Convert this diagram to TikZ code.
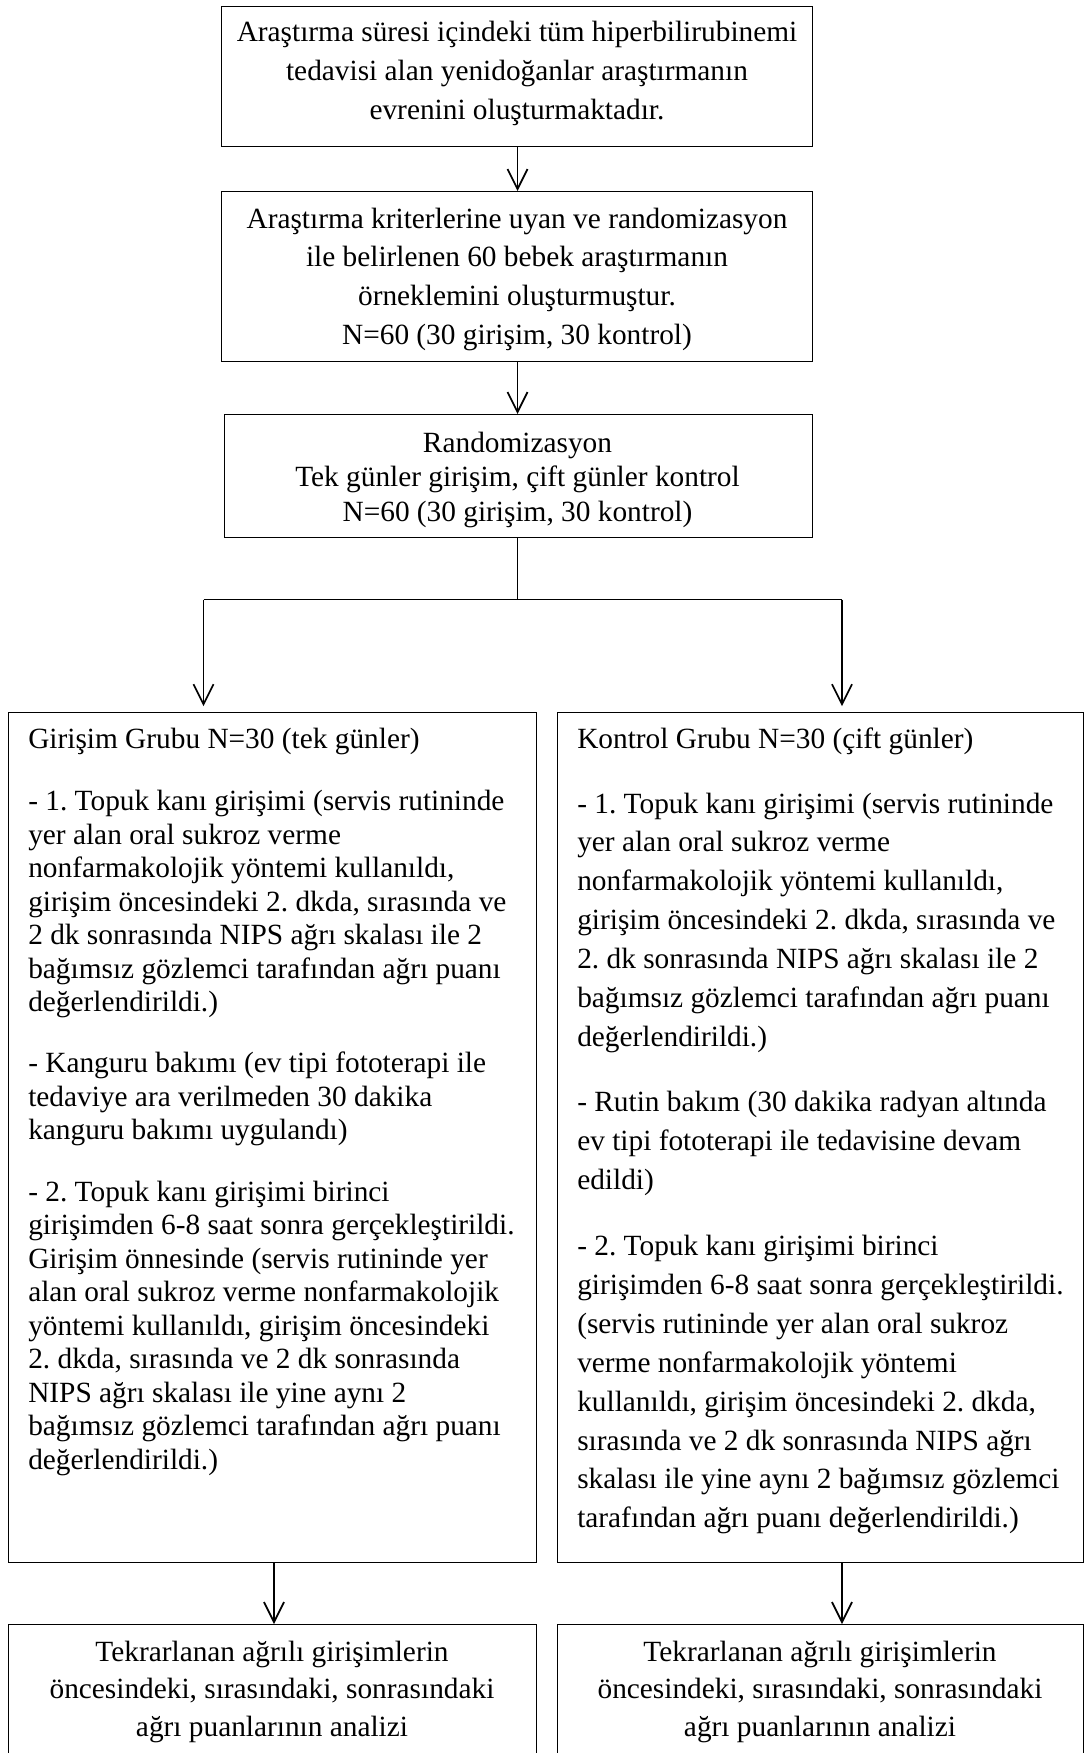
\documentclass[tikz,border=0pt]{standalone}
\usepackage{fontspec}
\setmainfont{Liberation Serif}
\usetikzlibrary{arrows.meta}
\frenchspacing
\begin{document}
\begin{tikzpicture}[x=0.75pt,y=-0.75pt,
  box/.style={draw,line width=1.1pt,inner sep=0pt,anchor=north west},
  ctxt/.style={inner sep=0pt,anchor=base},
  ltxt/.style={inner sep=0pt,anchor=base west},
  ln/.style={line width=1.3pt},
  arr/.style={line width=1.3pt,-{Straight Barb[length=15pt,width=15pt,line width=1.3pt]}}]
\useasboundingbox (0,0) rectangle (1084,1753);
\clip (0,0) rectangle (1084,1753);
% boxes
\node[box,minimum width=443.25pt,minimum height=105pt] (b1) at (221,6) {};
\node[box,minimum width=443.25pt,minimum height=127.5pt] (b2) at (221,191) {};
\node[box,minimum width=441pt,minimum height=92.25pt] (b3) at (224,414) {};
\node[box,minimum width=396pt,minimum height=637.5pt] (L) at (8,711.5) {};
\node[box,minimum width=394.875pt,minimum height=637.5pt] (R) at (556.5,711.5) {};
\node[box,minimum width=396pt,minimum height=109.5pt] (LB) at (8,1624) {};
\node[box,minimum width=394.875pt,minimum height=109.5pt] (RB) at (556.5,1624) {};
% texts
\node[ctxt] (t1) at (517,41) {\begin{minipage}[t]{600pt}\centering\fontsize{22pt}{29.44pt}\selectfont
Araştırma süresi içindeki tüm hiperbilirubinemi\\
tedavisi alan yenidoğanlar araştırmanın\\
evrenini oluşturmaktadır.\end{minipage}};
\node[ctxt] (t2) at (517,228) {\begin{minipage}[t]{600pt}\centering\fontsize{22pt}{29.0pt}\selectfont
Araştırma kriterlerine uyan ve randomizasyon\\
ile belirlenen 60 bebek araştırmanın\\
örneklemini oluşturmuştur.\\
N=60 (30 girişim, 30 kontrol)\end{minipage}};
\node[ctxt] (t3) at (517.5,452.5) {\begin{minipage}[t]{600pt}\centering\fontsize{22pt}{25.7pt}\selectfont
Randomizasyon\\
Tek günler girişim, çift günler kontrol\\
N=60 (30 girişim, 30 kontrol)\end{minipage}};
\node[ltxt] (tl) at (28,748) {\begin{minipage}[t]{420pt}\raggedright\fontsize{22pt}{25.125pt}\selectfont
Girişim Grubu N=30 (tek günler)\\[22.1pt]
- 1. Topuk kanı girişimi (servis rutininde\\
yer alan oral sukroz verme\\
nonfarmakolojik yöntemi kullanıldı,\\
girişim öncesindeki 2. dkda, sırasında ve\\
2 dk sonrasında NIPS ağrı skalası ile 2\\
bağımsız gözlemci tarafından ağrı puanı\\
değerlendirildi.)\\[20.6pt]
- Kanguru bakımı (ev tipi fototerapi ile\\
tedaviye ara verilmeden 30 dakika\\
kanguru bakımı uygulandı)\\[21pt]
- 2. Topuk kanı girişimi birinci\\
girişimden 6-8 saat sonra gerçekleştirildi.\\
Girişim önnesinde (servis rutininde yer\\
alan oral sukroz verme nonfarmakolojik\\
yöntemi kullanıldı, girişim öncesindeki\\
2. dkda, sırasında ve 2 dk sonrasında\\
NIPS ağrı skalası ile yine aynı 2\\
bağımsız gözlemci tarafından ağrı puanı\\
değerlendirildi.)\end{minipage}};
\node[ltxt] (tr) at (577,748) {\begin{minipage}[t]{420pt}\raggedright\fontsize{22pt}{29.175pt}\selectfont
Kontrol Grubu N=30 (çift günler)\\[19.6pt]
- 1. Topuk kanı girişimi (servis rutininde\\
yer alan oral sukroz verme\\
nonfarmakolojik yöntemi kullanıldı,\\
girişim öncesindeki 2. dkda, sırasında ve\\
2. dk sonrasında NIPS ağrı skalası ile 2\\
bağımsız gözlemci tarafından ağrı puanı\\
değerlendirildi.)\\[19.7pt]
- Rutin bakım (30 dakika radyan altında\\
ev tipi fototerapi ile tedavisine devam\\
edildi)\\[20.4pt]
- 2. Topuk kanı girişimi birinci\\
girişimden 6-8 saat sonra gerçekleştirildi.\\
(servis rutininde yer alan oral sukroz\\
verme nonfarmakolojik yöntemi\\
kullanıldı, girişim öncesindeki 2. dkda,\\
sırasında ve 2 dk sonrasında NIPS ağrı\\
skalası ile yine aynı 2 bağımsız gözlemci\\
tarafından ağrı puanı değerlendirildi.)\end{minipage}};
\node[ctxt] (tlb) at (272,1661.5) {\begin{minipage}[t]{390pt}\centering\fontsize{22pt}{28.05pt}\selectfont
Tekrarlanan ağrılı girişimlerin\\
öncesindeki, sırasındaki, sonrasındaki\\
ağrı puanlarının analizi\end{minipage}};
\node[ctxt] (trb) at (820,1661.5) {\begin{minipage}[t]{390pt}\centering\fontsize{22pt}{28.05pt}\selectfont
Tekrarlanan ağrılı girişimlerin\\
öncesindeki, sırasındaki, sonrasındaki\\
ağrı puanlarının analizi\end{minipage}};
% connectors
\coordinate (jl) at (203.5,599.5);
\coordinate (jr) at (842,599.5);
\coordinate (jc) at (517.5,599.5);
\coordinate (al) at (274,0);
\coordinate (ar) at (842,0);
\draw[arr] (b1.south -| jc) -- (b2.north -| jc);
\draw[arr] (b2.south -| jc) -- (b3.north -| jc);
\draw[ln] (b3.south -| jc) -- (jc);
\draw[ln] (jl) -- (jr);
\draw[arr,shorten >=4pt] (jl) -- (jl |- L.north);
\draw[arr,shorten >=4pt] (jr) -- (jr |- R.north);
\draw[arr] (L.south -| al) -- (LB.north -| al);
\draw[arr] (R.south -| ar) -- (RB.north -| ar);
\end{tikzpicture}
\end{document}
